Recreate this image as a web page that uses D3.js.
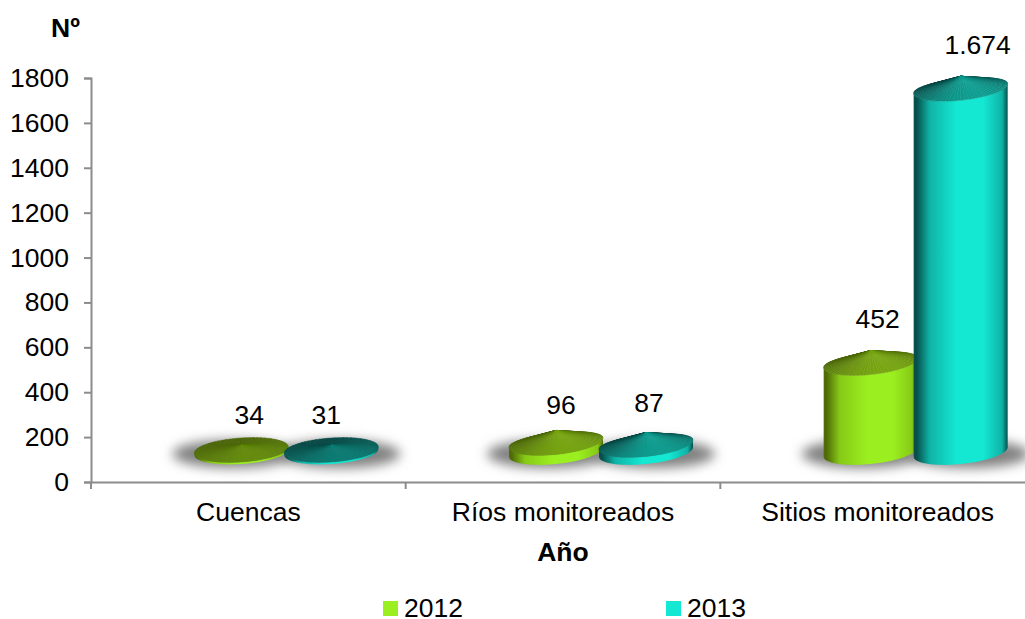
<!DOCTYPE html>
<html>
<head>
<meta charset="utf-8">
<script src="https://cdn.jsdelivr.net/npm/d3@7"></script>
<style>
  body { margin: 0; background: #fff; overflow: hidden; }
  text { font-family: "Liberation Sans", Arial, sans-serif; fill: #000; }
</style>
</head>
<body>
<div id="chart"></div>
<script>
const categories = ['Cuencas', 'Ríos monitoreados', 'Sitios monitoreados'];
const years = ['2012', '2013'];
const values2012 = [34, 96, 452];
const values2013 = [31, 87, 1674];
const yTicks = [0, 200, 400, 600, 800, 1000, 1200, 1400, 1600, 1800];

const width = 1025, height = 619;
const fontSize = 26.5;

// colours of each series: edge, body, highlight, cap back, cap front
const palette = {
  '2012': { edge: '#4f6c08', body: '#86c916', light: '#9bee20', back: '#465f07', front: '#77a511' },
  '2013': { edge: '#064f4b', body: '#10b3a6', light: '#14e8d3', back: '#063f3d', front: '#0e9d90' }
};

const svg = d3.select('#chart').append('svg')
  .attr('width', width)
  .attr('height', height)
  .style('display', 'block');

const defs = svg.append('defs');
defs.append('filter').attr('id', 'blur')
  .attr('x', '-30%').attr('y', '-100%').attr('width', '160%').attr('height', '300%')
  .append('feGaussianBlur').attr('stdDeviation', 6);

years.forEach(yr => {
  const c = palette[yr];
  const grad = defs.append('linearGradient').attr('id', 'body' + yr);
  [[0, c.edge], [0.03, c.edge], [0.17, c.body], [0.46, c.light], [0.74, c.light], [0.94, c.body], [1, c.edge]].forEach(s => {
    grad.append('stop').attr('offset', s[0]).attr('stop-color', s[1]);
  });
});

const y = d3.scaleLinear().domain([0, 1800]).range([482, 78]);
// the category axis runs past the right edge of the picture
const x0 = d3.scaleBand().domain(categories).range([91, 1035]);
const x1 = d3.scaleBand().domain(years).range([0, 180]);

// y axis
const yAxis = svg.append('g')
  .attr('transform', 'translate(91,0)')
  .call(d3.axisLeft(y).tickValues(yTicks).tickFormat(d3.format('d')).tickSize(7).tickPadding(15));
yAxis.selectAll('text').style('font-size', fontSize + 'px');

// x axis
const xAxis = svg.append('g')
  .attr('transform', 'translate(0,482)')
  .call(d3.axisBottom(x0).tickSize(0).tickPadding(20));
xAxis.selectAll('text').style('font-size', fontSize + 'px');
xAxis.selectAll('.tick line').remove();
xAxis.selectAll('.sep').data(d3.range(categories.length + 1)).enter().append('line')
  .attr('class', 'sep')
  .attr('x1', i => x0.range()[0] + i * x0.step())
  .attr('x2', i => x0.range()[0] + i * x0.step())
  .attr('y2', 7);

svg.selectAll('.domain, .tick line, .sep')
  .attr('stroke', '#8c8c8c')
  .attr('stroke-width', 2);

// axis titles
svg.append('text').attr('x', 65.5).attr('y', 37)
  .attr('text-anchor', 'middle').style('font-size', fontSize + 'px').style('font-weight', 'bold').text('Nº');
svg.append('text').attr('x', 563).attr('y', 561)
  .attr('text-anchor', 'middle').style('font-size', fontSize + 'px').style('font-weight', 'bold').text('Año');

// cylinders
const rx = 47, ry = 12;
const baseY = 452;     // centre of the base ellipse
const depthX = 38;     // 3D offset of the plot floor
const line = d3.line();

// point on a tilted ellipse; the back half can be flatter than the front
const rim = (cx, cy, t, shear, back) => {
  const s = Math.sin(t);
  return [cx + rx * Math.cos(t), cy + (s < 0 ? back : ry) * s - shear * rx * Math.cos(t)];
};

const rows = [];
categories.forEach((cat, i) => {
  rows.push({ cat, yr: '2012', v: values2012[i] });
  rows.push({ cat, yr: '2013', v: values2013[i] });
});
rows.forEach(d => {
  d.cx = x0(d.cat) + x0.bandwidth() / 2 + depthX + x1(d.yr) + x1.bandwidth() / 2 - 90;
  d.capY = Math.min(y(d.v) - 18, baseY - 2);
  d.tall = baseY - d.capY > 5;
  d.shear = d.tall ? 0.1 : 0.065;
});

const marks = svg.append('g');

// soft shadows go under all the bars
marks.selectAll('.shadow').data(rows).enter().append('ellipse')
  .attr('class', 'shadow')
  .attr('cx', d => d.cx + (d.yr === '2012' ? -8 : 8))
  .attr('cy', baseY + 2)
  .attr('rx', rx + 14)
  .attr('ry', ry + 2)
  .attr('fill', '#808080')
  .attr('filter', 'url(#blur)');

const nSeg = 72;
const bars = marks.selectAll('.bar').data(rows).enter().append('g').attr('class', 'bar');

bars.append('path')
  .attr('d', d => {
    const pts = [];
    for (let k = 0; k <= nSeg / 2; k++) pts.push(rim(d.cx, baseY, k / nSeg * 2 * Math.PI, d.shear, ry));
    for (let k = nSeg / 2; k >= 0; k--) pts.push(rim(d.cx, d.capY, k / nSeg * 2 * Math.PI, d.shear, ry));
    return line(pts) + 'Z';
  })
  .attr('fill', d => `url(#body${d.yr})`);

// cone cap: a fan of thin triangles, shaded by direction, back ones first
bars.each(function(d) {
  const g = d3.select(this);
  const c = palette[d.yr];
  const back = d.tall ? 9.5 : ry;
  const apex = [d.cx, d.capY - (d.tall ? 12 : ry * 0.4)];
  const shade = d3.interpolateRgb(c.back, c.front);
  const segs = d3.range(nSeg).map(k => k / nSeg * 2 * Math.PI);
  segs.sort((a, b) => Math.sin(a + Math.PI / nSeg) - Math.sin(b + Math.PI / nSeg));
  segs.forEach(t => {
    const t2 = t + 2 * Math.PI / nSeg;
    const mid = t + Math.PI / nSeg;
    const level = Math.pow((1 + Math.sin(mid + 0.35)) / 2, 1.3);
    const col = shade(d.tall ? level : level * 0.55 + 0.1);
    g.append('path')
      .attr('d', line([apex, rim(d.cx, d.capY, t, d.shear, back), rim(d.cx, d.capY, t2, d.shear, back)]) + 'Z')
      .attr('fill', col)
      .attr('stroke', col)
      .attr('stroke-width', 0.5);
  });
});

// data labels, nudged by hand the way they sit in the picture
const fmt = d3.formatLocale({ decimal: ',', thousands: '.', grouping: [3], currency: ['', ''] }).format(',');
const nudgeX = [8, -5, 5, 3, 7, 17];
const nudgeY = [-26, -26, -28, -32, -35, -34];
marks.selectAll('.val').data(rows).enter().append('text')
  .attr('class', 'val')
  .attr('x', (d, i) => d.cx + nudgeX[i])
  .attr('y', (d, i) => d.capY + nudgeY[i])
  .attr('text-anchor', 'middle')
  .style('font-size', fontSize + 'px')
  .text(d => fmt(d.v));

// legend
const legendX = d3.scalePoint().domain(years).range([383, 666]);
const legend = svg.selectAll('.leg').data(years).enter().append('g')
  .attr('class', 'leg')
  .attr('transform', d => `translate(${legendX(d)},601)`);
legend.append('rect').attr('width', 15).attr('height', 15)
  .attr('fill', d => palette[d].light);
legend.append('text').attr('x', 21).attr('y', 16)
  .style('font-size', fontSize + 'px')
  .text(d => d);
</script>
</body>
</html>
